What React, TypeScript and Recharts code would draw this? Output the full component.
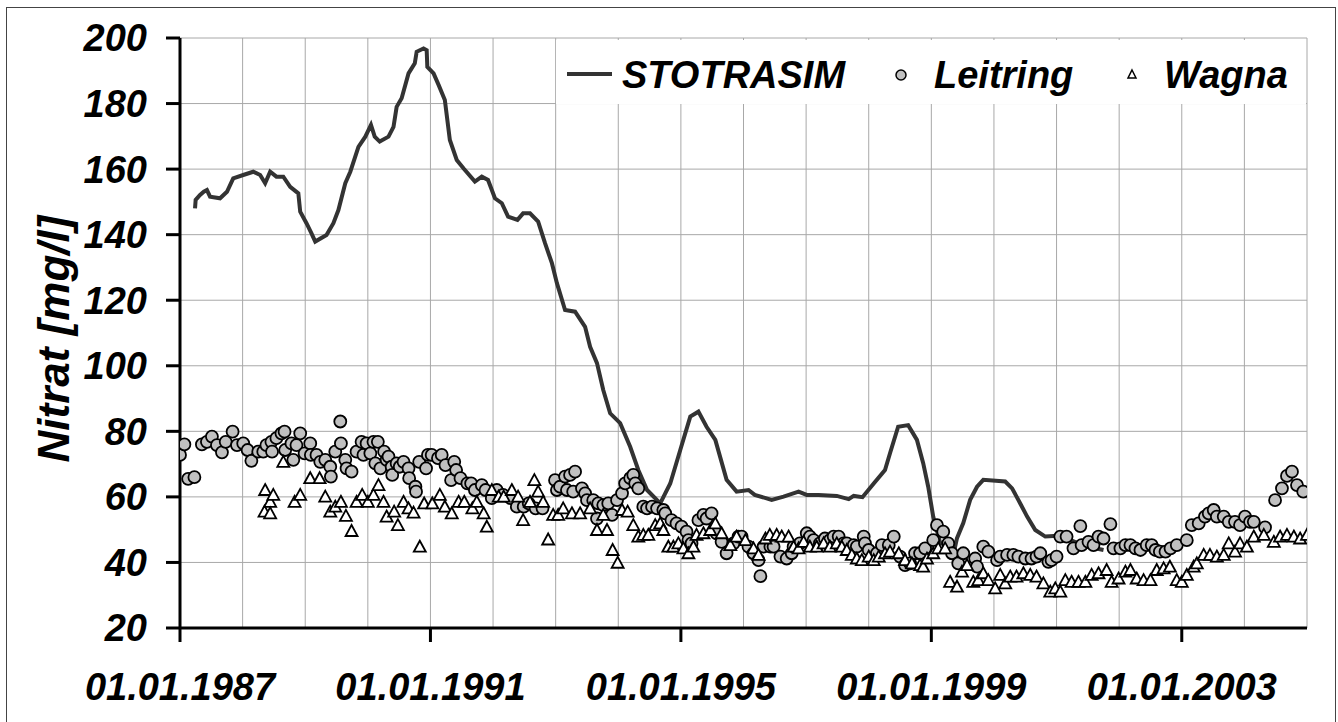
import {
  CartesianGrid,
  ComposedChart,
  Line,
  Scatter,
  XAxis,
  YAxis
} from 'recharts'

// decimal year, nitrate [mg/l]
const STOTRASIM: [number, number][] = [
  [1987.24, 148.0], [1987.25, 150.6], [1987.32, 152.1], [1987.38, 153.1], [1987.43, 153.6],
  [1987.48, 151.6], [1987.64, 151.1], [1987.75, 153.1], [1987.85, 157.2], [1988.01, 158.2],
  [1988.17, 159.2], [1988.28, 158.2], [1988.36, 155.7], [1988.44, 159.2], [1988.54, 157.7],
  [1988.65, 157.7], [1988.76, 154.6], [1988.89, 152.6], [1988.92, 147.0], [1989.02, 143.5],
  [1989.1, 140.4], [1989.16, 137.9], [1989.34, 139.9], [1989.45, 143.5], [1989.53, 147.5],
  [1989.64, 155.7], [1989.72, 159.2], [1989.85, 166.8], [1989.96, 169.9], [1990.05, 173.5],
  [1990.11, 169.9], [1990.19, 168.4], [1990.33, 169.9], [1990.41, 172.9], [1990.46, 179.0],
  [1990.54, 181.6], [1990.65, 189.2], [1990.75, 192.3], [1990.78, 195.8], [1990.89, 196.8],
  [1990.94, 196.3], [1990.95, 191.2], [1991.05, 189.2], [1991.13, 185.7], [1991.23, 181.1],
  [1991.31, 168.9], [1991.42, 162.8], [1991.53, 160.2], [1991.71, 156.2], [1991.82, 157.7],
  [1991.92, 156.7], [1992.03, 151.1], [1992.14, 149.6], [1992.24, 145.5], [1992.39, 144.5],
  [1992.48, 146.5], [1992.59, 146.5], [1992.72, 144.0], [1992.83, 137.4], [1992.94, 131.3],
  [1993.02, 125.2], [1993.15, 117.0], [1993.31, 116.5], [1993.47, 111.9], [1993.55, 105.8],
  [1993.66, 100.8], [1993.76, 92.6], [1993.87, 85.5], [1994.03, 82.5], [1994.19, 75.3],
  [1994.32, 68.2], [1994.46, 62.1], [1994.67, 58.0], [1994.75, 61.1], [1994.83, 64.1],
  [1994.99, 74.3], [1995.15, 84.5], [1995.28, 86.0], [1995.41, 81.4], [1995.55, 77.4],
  [1995.73, 65.2], [1995.89, 61.6], [1996.08, 62.1], [1996.18, 60.6], [1996.45, 59.1],
  [1996.64, 60.1], [1996.88, 61.6], [1997.01, 60.6], [1997.2, 60.6], [1997.49, 60.3],
  [1997.68, 59.3], [1997.76, 60.3], [1997.9, 59.9], [1998.08, 64.1], [1998.26, 68.2],
  [1998.34, 73.3], [1998.47, 81.4], [1998.63, 81.9], [1998.77, 77.4], [1998.87, 70.3],
  [1998.95, 63.1], [1999.03, 54.0], [1999.14, 46.0], [1999.3, 44.8], [1999.38, 44.8],
  [1999.41, 47.4], [1999.51, 52.0], [1999.62, 59.1], [1999.73, 63.1], [1999.83, 65.2],
  [2000.18, 64.7], [2000.29, 62.6], [2000.42, 58.0], [2000.53, 54.0], [2000.66, 49.9],
  [2000.82, 47.9], [2000.95, 48.1], [2001.2, 47.0], [2001.45, 45.0], [2001.75, 43.8]
]

const LEITRING: [number, number][] = [
  [1987.0, 72.8], [1987.07, 76.0], [1987.13, 65.5], [1987.23, 66.0], [1987.35, 76.0],
  [1987.43, 76.8], [1987.51, 78.4], [1987.59, 75.8], [1987.67, 73.6], [1987.73, 76.8],
  [1987.84, 79.9], [1987.91, 75.8], [1988.01, 76.3], [1988.08, 74.3], [1988.14, 71.0],
  [1988.25, 73.8], [1988.33, 73.8], [1988.38, 75.8], [1988.46, 76.8], [1988.47, 73.8],
  [1988.54, 77.9], [1988.62, 79.4], [1988.67, 79.9], [1988.68, 74.3], [1988.78, 76.3],
  [1988.81, 71.3], [1988.86, 75.8], [1988.92, 79.4], [1988.99, 73.3], [1989.08, 76.3],
  [1989.09, 72.8], [1989.18, 72.8], [1989.24, 70.7], [1989.32, 71.3], [1989.4, 69.2],
  [1989.41, 66.2], [1989.48, 73.8], [1989.56, 83.0], [1989.57, 76.3], [1989.64, 71.3],
  [1989.66, 68.7], [1989.74, 67.7], [1989.82, 73.8], [1989.9, 76.8], [1989.93, 72.8],
  [1989.98, 76.3], [1990.04, 73.3], [1990.09, 76.8], [1990.12, 70.2], [1990.16, 76.8],
  [1990.2, 68.7], [1990.26, 73.8], [1990.3, 71.3], [1990.33, 72.3], [1990.38, 69.2],
  [1990.39, 66.7], [1990.46, 70.2], [1990.51, 69.2], [1990.57, 70.7], [1990.65, 68.7],
  [1990.66, 65.7], [1990.76, 63.1], [1990.77, 61.6], [1990.82, 70.7], [1990.93, 68.7],
  [1990.96, 72.8], [1991.02, 72.8], [1991.12, 71.8], [1991.18, 72.8], [1991.24, 69.7],
  [1991.33, 65.1], [1991.38, 70.7], [1991.41, 68.2], [1991.48, 65.7], [1991.59, 64.1],
  [1991.65, 64.1], [1991.71, 62.1], [1991.82, 63.6], [1991.88, 62.1], [1991.98, 59.6],
  [1992.06, 62.1], [1992.16, 60.6], [1992.28, 59.6], [1992.38, 57.0], [1992.49, 57.0],
  [1992.57, 58.0], [1992.68, 56.5], [1992.79, 56.5], [1992.99, 65.1], [1993.02, 62.1],
  [1993.07, 63.1], [1993.15, 66.2], [1993.18, 62.1], [1993.23, 66.7], [1993.28, 61.6],
  [1993.31, 67.7], [1993.42, 62.6], [1993.47, 61.1], [1993.5, 59.0], [1993.6, 59.0],
  [1993.66, 53.4], [1993.68, 58.0], [1993.76, 57.5], [1993.84, 58.0], [1993.9, 54.5],
  [1993.98, 59.0], [1994.06, 61.1], [1994.11, 64.1], [1994.19, 65.7], [1994.24, 66.7],
  [1994.27, 64.1], [1994.32, 62.6], [1994.4, 57.0], [1994.46, 56.5], [1994.54, 57.0],
  [1994.62, 56.5], [1994.72, 56.0], [1994.75, 55.0], [1994.85, 52.9], [1994.93, 51.9],
  [1995.01, 50.9], [1995.09, 49.4], [1995.12, 46.8], [1995.17, 45.8], [1995.28, 52.9],
  [1995.36, 54.5], [1995.41, 53.4], [1995.49, 55.0], [1995.57, 48.9], [1995.65, 46.3],
  [1995.73, 42.8], [1995.84, 45.8], [1995.92, 47.9], [1995.97, 47.9], [1996.08, 44.8],
  [1996.16, 42.8], [1996.24, 40.7], [1996.27, 35.8], [1996.32, 44.8], [1996.43, 44.8],
  [1996.48, 44.8], [1996.59, 41.8], [1996.69, 41.2], [1996.77, 42.8], [1996.8, 44.8],
  [1996.9, 45.8], [1997.01, 48.9], [1997.06, 47.9], [1997.12, 46.8], [1997.22, 45.8],
  [1997.3, 47.3], [1997.38, 46.8], [1997.44, 47.9], [1997.52, 47.9], [1997.6, 45.8],
  [1997.65, 45.8], [1997.76, 45.3], [1997.81, 44.8], [1997.92, 47.9], [1997.94, 45.8],
  [1998.0, 43.8], [1998.13, 42.8], [1998.21, 45.3], [1998.32, 45.3], [1998.4, 47.9],
  [1998.5, 41.8], [1998.58, 39.2], [1998.66, 39.7], [1998.74, 42.8], [1998.82, 42.8],
  [1998.9, 44.3], [1999.03, 46.8], [1999.09, 51.4], [1999.19, 49.4], [1999.27, 45.8],
  [1999.33, 42.8], [1999.43, 39.7], [1999.51, 42.8], [1999.7, 41.2], [1999.73, 38.7],
  [1999.83, 44.8], [1999.91, 43.3], [2000.05, 40.7], [2000.1, 41.8], [2000.21, 42.3],
  [2000.31, 42.3], [2000.39, 41.8], [2000.5, 41.2], [2000.6, 41.2], [2000.68, 41.8],
  [2000.74, 42.8], [2000.87, 40.2], [2000.92, 40.7], [2001.0, 41.8], [2001.06, 47.9],
  [2001.16, 47.9], [2001.27, 44.3], [2001.38, 51.1], [2001.4, 45.3], [2001.51, 46.3],
  [2001.59, 45.3], [2001.67, 47.9], [2001.75, 47.3], [2001.86, 51.7], [2001.91, 44.3],
  [2002.02, 44.3], [2002.1, 45.3], [2002.18, 45.3], [2002.26, 44.3], [2002.34, 43.8],
  [2002.44, 45.3], [2002.52, 45.3], [2002.58, 43.8], [2002.65, 43.3], [2002.74, 43.3],
  [2002.82, 44.3], [2002.92, 45.3], [2003.08, 46.8], [2003.16, 51.4], [2003.27, 51.9],
  [2003.37, 54.0], [2003.43, 55.0], [2003.51, 56.0], [2003.56, 54.0], [2003.67, 54.0],
  [2003.75, 52.4], [2003.85, 52.4], [2003.93, 51.4], [2004.01, 54.0], [2004.09, 52.4],
  [2004.15, 52.4], [2004.33, 50.7], [2004.49, 59.0], [2004.6, 62.6], [2004.68, 66.4],
  [2004.76, 67.7], [2004.84, 63.6], [2004.94, 61.6]
]

const WAGNA: [number, number][] = [
  [1988.35, 55.5], [1988.36, 62.1], [1988.44, 58.5], [1988.44, 55.0], [1988.49, 60.6],
  [1988.65, 70.7], [1988.83, 58.5], [1988.92, 60.6], [1989.08, 65.7], [1989.23, 65.7],
  [1989.32, 60.1], [1989.4, 55.5], [1989.48, 57.0], [1989.57, 58.5], [1989.65, 54.2],
  [1989.74, 49.6], [1989.82, 58.5], [1989.91, 60.6], [1990.0, 58.5], [1990.09, 60.6],
  [1990.17, 63.6], [1990.25, 58.5], [1990.3, 54.0], [1990.42, 55.5], [1990.48, 51.4],
  [1990.57, 58.5], [1990.65, 56.5], [1990.73, 55.2], [1990.83, 44.8], [1990.9, 58.0],
  [1991.03, 58.0], [1991.15, 60.6], [1991.23, 57.0], [1991.34, 55.0], [1991.45, 58.5],
  [1991.54, 58.5], [1991.67, 56.5], [1991.74, 58.5], [1991.85, 55.0], [1991.9, 50.9],
  [1991.98, 62.1], [1992.09, 60.1], [1992.17, 60.1], [1992.3, 62.1], [1992.4, 60.1],
  [1992.48, 52.9], [1992.59, 58.5], [1992.66, 65.1], [1992.72, 61.6], [1992.8, 58.5],
  [1992.88, 47.0], [1992.96, 54.5], [1993.04, 54.5], [1993.12, 56.5], [1993.26, 55.0],
  [1993.39, 55.0], [1993.55, 56.5], [1993.66, 49.9], [1993.76, 54.5], [1993.82, 49.9],
  [1993.91, 43.8], [1993.99, 39.9], [1994.06, 56.0], [1994.15, 55.5], [1994.24, 51.4],
  [1994.32, 47.9], [1994.4, 48.4], [1994.48, 48.4], [1994.59, 51.4], [1994.67, 51.9],
  [1994.72, 49.9], [1994.8, 44.8], [1994.88, 44.8], [1994.96, 45.8], [1995.04, 44.3],
  [1995.12, 42.8], [1995.2, 44.8], [1995.25, 48.4], [1995.36, 48.9], [1995.47, 49.9],
  [1995.55, 51.9], [1995.65, 48.9], [1995.79, 45.3], [1995.89, 47.9], [1996.03, 46.8],
  [1996.16, 44.3], [1996.24, 42.3], [1996.35, 47.3], [1996.42, 48.4], [1996.53, 48.4],
  [1996.61, 47.9], [1996.72, 47.9], [1996.8, 44.8], [1996.88, 44.3], [1996.96, 46.3],
  [1997.06, 44.8], [1997.17, 44.8], [1997.28, 45.8], [1997.38, 44.8], [1997.49, 45.8],
  [1997.57, 44.8], [1997.65, 43.8], [1997.73, 42.3], [1997.81, 41.2], [1997.89, 40.7],
  [1998.0, 41.8], [1998.08, 40.7], [1998.16, 41.8], [1998.26, 42.8], [1998.34, 43.3],
  [1998.48, 42.8], [1998.58, 40.7], [1998.69, 39.7], [1998.82, 39.2], [1998.87, 38.7],
  [1998.93, 41.2], [1999.03, 42.8], [1999.11, 44.3], [1999.22, 44.3], [1999.3, 34.1],
  [1999.41, 32.6], [1999.49, 37.2], [1999.57, 39.2], [1999.67, 34.1], [1999.75, 34.6],
  [1999.83, 36.7], [1999.91, 34.6], [2000.02, 32.1], [2000.1, 36.2], [2000.18, 33.6],
  [2000.26, 35.7], [2000.36, 35.7], [2000.47, 36.7], [2000.58, 36.2], [2000.68, 35.7],
  [2000.79, 33.6], [2000.9, 31.1], [2000.98, 32.1], [2001.06, 31.1], [2001.14, 34.6],
  [2001.24, 34.1], [2001.35, 34.1], [2001.46, 34.1], [2001.56, 36.2], [2001.67, 36.7],
  [2001.8, 37.7], [2001.88, 34.1], [2001.99, 35.1], [2002.1, 37.2], [2002.18, 37.7],
  [2002.28, 35.1], [2002.39, 34.6], [2002.5, 34.6], [2002.6, 37.7], [2002.71, 38.2],
  [2002.81, 38.7], [2002.92, 34.6], [2003.0, 34.1], [2003.08, 36.2], [2003.19, 38.7],
  [2003.24, 39.7], [2003.35, 42.3], [2003.45, 42.3], [2003.56, 41.8], [2003.67, 42.3],
  [2003.75, 45.8], [2003.85, 43.3], [2003.93, 45.8], [2004.04, 44.8], [2004.15, 47.9],
  [2004.31, 48.4], [2004.47, 46.3], [2004.57, 47.9], [2004.68, 48.4], [2004.79, 47.9],
  [2004.89, 47.3], [2005.0, 48.4]
]

const YEAR_TICKS = [
  1987, 1988, 1989, 1990, 1991, 1992, 1993, 1994, 1995, 1996,
  1997, 1998, 1999, 2000, 2001, 2002, 2003, 2004, 2005
]
const LABELED_YEARS = [1987, 1991, 1995, 1999, 2003]
const NITRAT_TICKS = [20, 40, 60, 80, 100, 120, 140, 160, 180, 200]

const FONT = '"Liberation Sans", Arial, sans-serif'
const TICK_FONT_SIZE = 38
const toRows = (pts: [number, number][]) => pts.map(([year, value]) => ({ year, value }))

function YearTick({ x, y, payload }: any) {
  if (!LABELED_YEARS.includes(payload.value)) return null
  return (
    <g>
      <line x1={x} x2={x} y1={y - 14} y2={y} stroke='#000' strokeWidth={3} />
      <text
        x={x}
        y={y + 58}
        textAnchor='middle'
        fontFamily={FONT}
        fontSize={TICK_FONT_SIZE}
        fontWeight='bold'
        fontStyle='italic'
        fill='#000'
      >
        {`01.01.${payload.value}`}
      </text>
    </g>
  )
}

function CircleDot({ cx, cy }: any) {
  return <circle cx={cx} cy={cy} r={6} fill='#c0c0c0' stroke='#000' strokeWidth={1.8} />
}

function TriangleDot({ cx, cy }: any) {
  return (
    <polygon
      points={`${cx},${cy - 6} ${cx + 6},${cy + 5} ${cx - 6},${cy + 5}`}
      fill='#fff'
      stroke='#000'
      strokeWidth={1.8}
    />
  )
}

function AxisTitle({ viewBox }: any) {
  const cx = viewBox.x + 69
  const cy = viewBox.y + viewBox.height / 2 + 6
  return (
    <text
      x={cx}
      y={cy}
      transform={`rotate(-90 ${cx} ${cy})`}
      textAnchor='middle'
      fontFamily={FONT}
      fontSize={44}
      fontWeight='bold'
      fontStyle='italic'
      fill='#000'
    >
      Nitrat [mg/l]
    </text>
  )
}

function ChartLegend() {
  const textStyle = {
    fontFamily: FONT,
    fontSize: TICK_FONT_SIZE,
    fontWeight: 'bold' as const,
    fontStyle: 'italic' as const
  }
  return (
    <svg
      width={750}
      height={64}
      style={{ position: 'absolute', left: 556, top: 40, background: '#fff' }}
    >
      <line x1={11} x2={56} y1={34} y2={34} stroke='#333' strokeWidth={4} />
      <text x={66} y={48} {...textStyle}>STOTRASIM</text>
      <circle cx={345} cy={35} r={5} fill='#c0c0c0' stroke='#000' strokeWidth={1.5} />
      <text x={378} y={48} {...textStyle}>Leitring</text>
      <polygon points='576,30 580,38 572,38' fill='#fff' stroke='#000' strokeWidth={1.5} />
      <text x={608} y={48} {...textStyle}>Wagna</text>
    </svg>
  )
}

export default function App() {
  return (
    <div
      style={{
        position: 'absolute',
        left: 0,
        top: 0,
        width: 1338,
        height: 722,
        background: '#fff',
        overflow: 'hidden'
      }}
    >
      <div
        style={{
          position: 'absolute',
          left: 6,
          top: 7,
          width: 1328,
          height: 740,
          border: '1px solid #444'
        }}
      />
      <div style={{ position: 'absolute', left: 0, top: 0 }}>
        <ComposedChart
          width={1338}
          height={722}
          margin={{ top: 38, right: 31, bottom: 0, left: 0 }}
        >
          <CartesianGrid stroke='#a8a8a8' strokeWidth={1} />
          <XAxis
            dataKey='year'
            type='number'
            domain={[1987, 2005]}
            ticks={YEAR_TICKS}
            interval={0}
            height={94}
            tickSize={14}
            tickMargin={0}
            tickLine={false}
            axisLine={{ stroke: '#000', strokeWidth: 3 }}
            tick={<YearTick />}
            allowDataOverflow
          />
          <YAxis
            dataKey='value'
            type='number'
            domain={[20, 200]}
            ticks={NITRAT_TICKS}
            interval={0}
            width={180}
            tickSize={14}
            tickMargin={19}
            axisLine={{ stroke: '#000', strokeWidth: 3 }}
            tickLine={{ stroke: '#000', strokeWidth: 3 }}
            tick={{
              fill: '#000',
              fontFamily: FONT,
              fontSize: TICK_FONT_SIZE,
              fontWeight: 'bold',
              fontStyle: 'italic'
            }}
            label={<AxisTitle />}
            allowDataOverflow
          />
          <Line
            data={toRows(STOTRASIM)}
            dataKey='value'
            type='linear'
            stroke='#333'
            strokeWidth={4}
            dot={false}
            activeDot={false}
            isAnimationActive={false}
          />
          <Scatter
            data={toRows(LEITRING)}
            dataKey='value'
            shape={<CircleDot />}
            isAnimationActive={false}
          />
          <Scatter
            data={toRows(WAGNA)}
            dataKey='value'
            shape={<TriangleDot />}
            isAnimationActive={false}
          />
        </ComposedChart>
      </div>
      <ChartLegend />
    </div>
  )
}
